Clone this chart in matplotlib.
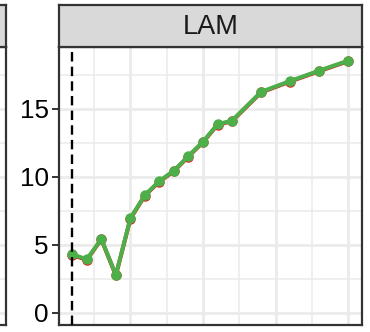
import matplotlib
matplotlib.use('Agg')
import matplotlib.pyplot as plt
from matplotlib.ticker import MultipleLocator

plt.rcParams['font.family'] = ['Liberation Sans', 'DejaVu Sans']

years = [1996, 1997, 1998, 1999, 2000, 2001, 2002, 2003, 2004, 2005,
         2006, 2007, 2009, 2011, 2013, 2015]
green_vals = [4.30, 3.93, 5.43, 2.78, 6.95, 8.66, 9.69, 10.45, 11.53, 12.58,
              13.86, 14.13, 16.24, 17.04, 17.80, 18.54]
red_vals = [4.24, 3.89, 5.40, 2.75, 6.91, 8.62, 9.65, 10.41, 11.49, 12.54,
            13.82, 14.09, 16.20, 17.00, 17.76, 18.50]
y_ticks = [0, 5, 10, 15]
facet_label = 'LAM'
cutoff_year = 1996

W, H = 370, 332
fig = plt.figure(figsize=(W / 100, H / 100), dpi=100)

grid_col = '#EBEBEB'
border_col = '#333333'
strip_col = '#D9D9D9'


def fx(px):
    return px / W


def fy(px_top):
    return 1 - px_top / H


def style_panel(ax):
    ax.set_facecolor('white')
    ax.set_xlim(1995.05, 2015.95)
    ax.set_ylim(-0.86, 19.54)
    ax.xaxis.set_major_locator(MultipleLocator(5))
    ax.xaxis.set_minor_locator(MultipleLocator(2.5))
    ax.set_yticks(y_ticks)
    ax.yaxis.set_minor_locator(MultipleLocator(2.5))
    ax.grid(True, which='major', color=grid_col, lw=2.0)
    ax.grid(True, which='minor', color=grid_col, lw=1.1)
    ax.set_axisbelow(True)
    for s in ax.spines.values():
        s.set_color(border_col)
        s.set_linewidth(1.6)
    ax.tick_params(axis='x', which='both', length=0, labelbottom=False)


def add_strip(x0, x1, text=None):
    sx = fig.add_axes([fx(x0), fy(47), fx(x1) - fx(x0), fy(5) - fy(47)])
    sx.set_facecolor(strip_col)
    sx.set_xticks([])
    sx.set_yticks([])
    for s in sx.spines.values():
        s.set_color(border_col)
        s.set_linewidth(1.6)
    if text:
        sx.text(0.5, 0.47, text, ha='center', va='center', fontsize=19.5,
                color='#1A1A1A', transform=sx.transAxes)


# partial neighbouring facet on the left
left = fig.add_axes([fx(-300), fy(324.5), fx(6) - fx(-300), fy(47) - fy(324.5)])
style_panel(left)
left.tick_params(axis='y', which='both', length=0, labelleft=False)
add_strip(-300, 6)

# main facet
ax = fig.add_axes([fx(58.5), fy(324.5), fx(362) - fx(58.5), fy(47) - fy(324.5)])
style_panel(ax)
ax.plot(years, red_vals, color='#E41A1C', lw=2.9, marker='o', ms=6.5, zorder=3)
ax.plot(years, green_vals, color='#4DAF4A', lw=2.9, marker='o', ms=6.5, zorder=4)
ax.axvline(cutoff_year, color='black', lw=1.7, dashes=(4, 2.2), zorder=5)
ax.tick_params(axis='y', which='major', length=5, width=1.4, color=border_col,
               labelsize=18.7, labelcolor='black', pad=2)
ax.tick_params(axis='y', which='minor', length=0)
add_strip(58.5, 362, facet_label)

fig.savefig('out.png', dpi=100)
